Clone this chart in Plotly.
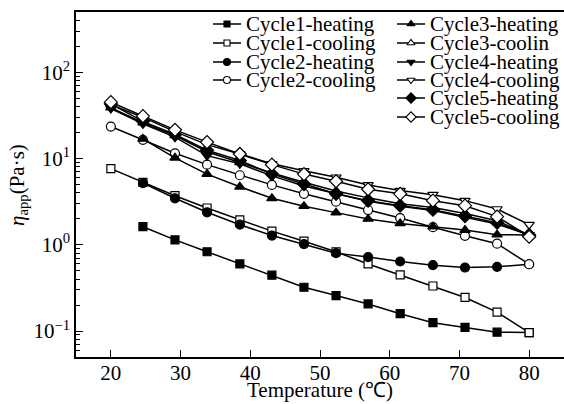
import plotly.graph_objects as go

# ---------------- data ----------------
temperature = [20, 24.6, 29.2, 33.8, 38.5, 43.1, 47.7, 52.3, 56.9, 61.5, 66.2, 70.8, 75.4, 80]

cycle1_heating = [None, 1.62, 1.14, 0.83, 0.60, 0.444, 0.322, 0.258, 0.206, 0.159, 0.125, 0.110, 0.097, 0.096]
cycle1_cooling = [7.65, 5.3, 3.71, 2.67, 1.94, 1.44, 1.10, 0.83, 0.60, 0.448, 0.333, 0.245, 0.166, 0.096]
cycle2_heating = [None, 5.2, 3.46, 2.38, 1.71, 1.28, 1.02, 0.80, 0.72, 0.64, 0.58, 0.545, 0.555, 0.595]
cycle2_cooling = [23.5, 16.5, 11.5, 8.5, 6.4, 4.95, 3.9, 3.16, 2.53, 2.04, 1.6, 1.27, 1.03, 0.595]
cycle3_heating = [None, 16.9, 10.2, 6.6, 4.7, 3.46, 2.8, 2.36, 1.99, 1.77, 1.62, 1.48, 1.31, 1.3]
cycle3_cooling = [39, 26, 18.5, 12.0, 9.0, 6.8, 5.3, 4.2, 3.5, 3.0, 2.7, 2.3, 1.9, 1.3]
cycle4_heating = [38, 25.3, 17.7, 10.8, 8.7, 6.3, 4.8, 3.9, 3.2, 2.8, 2.5, 2.08, 1.74, 1.3]
cycle4_cooling = [42, 30, 20.5, 14.5, 11.3, 8.7, 7.2, 6.07, 4.94, 4.25, 3.81, 3.25, 2.6, 1.71]
cycle5_heating = [43, 27, 19, 12.5, 9.5, 6.6, 5.07, 3.9, 3.25, 2.84, 2.55, 2.15, 1.8, 1.3]
cycle5_cooling = [45, 31, 21.5, 15.5, 11.3, 8.5, 6.6, 5.45, 4.4, 3.9, 3.25, 2.84, 2.12, 1.24]

series_names = ["Cycle1-heating", "Cycle1-cooling", "Cycle2-heating", "Cycle2-cooling",
                "Cycle3-heating", "Cycle3-coolin", "Cycle4-heating", "Cycle4-cooling",
                "Cycle5-heating", "Cycle5-cooling"]
series_values = [cycle1_heating, cycle1_cooling, cycle2_heating, cycle2_cooling,
                 cycle3_heating, cycle3_cooling, cycle4_heating, cycle4_cooling,
                 cycle5_heating, cycle5_cooling]
symbols = ["square", "square", "circle", "circle", "triangle-up", "triangle-up",
           "triangle-down", "triangle-down", "diamond", "diamond"]
filled = [True, False, True, False, True, False, True, False, True, False]

x_ticks = [20, 30, 40, 50, 60, 70, 80]
y_tickvals = [0.1, 1, 10, 100]
y_ticktext = ["10<sup>\u22121</sup>", "10<sup>0</sup>", "10<sup>1</sup>", "10<sup>2</sup>"]

FONT = "'Liberation Serif', 'Times New Roman', Times, serif"

fig = go.Figure()

marker_sizes = {"square": 8, "circle": 9, "triangle-up": 9, "triangle-down": 9, "diamond": 10}

for name, vals, sym, fill in zip(series_names, series_values, symbols, filled):
    fig.add_trace(go.Scatter(
        x=temperature, y=vals, mode="lines+markers", name=name,
        connectgaps=False,
        line=dict(color="black", width=1.5),
        marker=dict(symbol=sym, size=marker_sizes[sym],
                    color="black" if fill else "white",
                    line=dict(color="black", width=1.2)),
        showlegend=False,
    ))

# ---------------- custom legend (pixel-space helper axes) ----------------
col_x = [227, 411]
row_y = [24, 43, 62, 80, 98, 117]
for i, (name, sym, fill) in enumerate(zip(series_names, symbols, filled)):
    col = 0 if i < 4 else 1
    row = i if i < 4 else i - 4
    cx, cy = col_x[col], row_y[row]
    fig.add_trace(go.Scatter(
        x=[cx - 14, cx + 14], y=[cy, cy], mode="lines",
        xaxis="x2", yaxis="y2", showlegend=False, hoverinfo="skip",
        line=dict(color="black", width=1.5),
    ))
    fig.add_trace(go.Scatter(
        x=[cx], y=[cy], mode="markers",
        xaxis="x2", yaxis="y2", showlegend=False, hoverinfo="skip",
        marker=dict(symbol=sym, size=marker_sizes[sym] - 2,
                    color="black" if fill else "white",
                    line=dict(color="black", width=1.1)),
    ))
    fig.add_annotation(x=cx + 17, y=cy, xref="x2", yref="y2", text=name,
                       showarrow=False, xanchor="left", yanchor="middle",
                       font=dict(family=FONT, size=21, color="black"))

fig.update_layout(
    width=564, height=404,
    margin=dict(l=76, r=0, t=12, b=47),
    paper_bgcolor="white", plot_bgcolor="white",
    font=dict(family=FONT, size=21, color="black"),
    xaxis=dict(range=[15, 85], tickvals=x_ticks, ticks="inside", ticklen=7,
               tickcolor="black", showline=True, linecolor="black", linewidth=1.5,
               mirror=True, showgrid=False, zeroline=False,
               ticklabelstandoff=-4,
               tickfont=dict(family=FONT, size=21)),
    yaxis=dict(type="log", range=[-1.301, 2.699], tickvals=y_tickvals, ticktext=y_ticktext,
               ticks="inside", ticklen=7, tickcolor="black", showline=True,
               linecolor="black", linewidth=1.5, showgrid=False, zeroline=False,
               tickfont=dict(family=FONT, size=21),
               minor=dict(ticks="inside", ticklen=4, tickcolor="black", showgrid=False,
                          tickvals=[v * m for v in [0.01, 0.1, 1, 10, 100] for m in range(2, 10)])),
    xaxis2=dict(domain=[0, 1], range=[76, 564], visible=False, anchor="y2", overlaying="x"),
    yaxis2=dict(domain=[0, 1], range=[357, 12], visible=False, anchor="x2", overlaying="y"),
)

fig.add_annotation(x=0.5, y=-0.097, xref="paper", yref="paper", yanchor="middle",
                   text="Temperature (\u2103)", showarrow=False,
                   font=dict(family=FONT, size=21))
fig.add_annotation(x=-0.12, y=0.5, xref="paper", yref="paper", xanchor="center",
                   yanchor="middle", textangle=-90,
                   text="<i>\u03b7</i><sub>app</sub>(Pa\u00b7s)", showarrow=False,
                   font=dict(family=FONT, size=21))

fig.write_html("out.html")
